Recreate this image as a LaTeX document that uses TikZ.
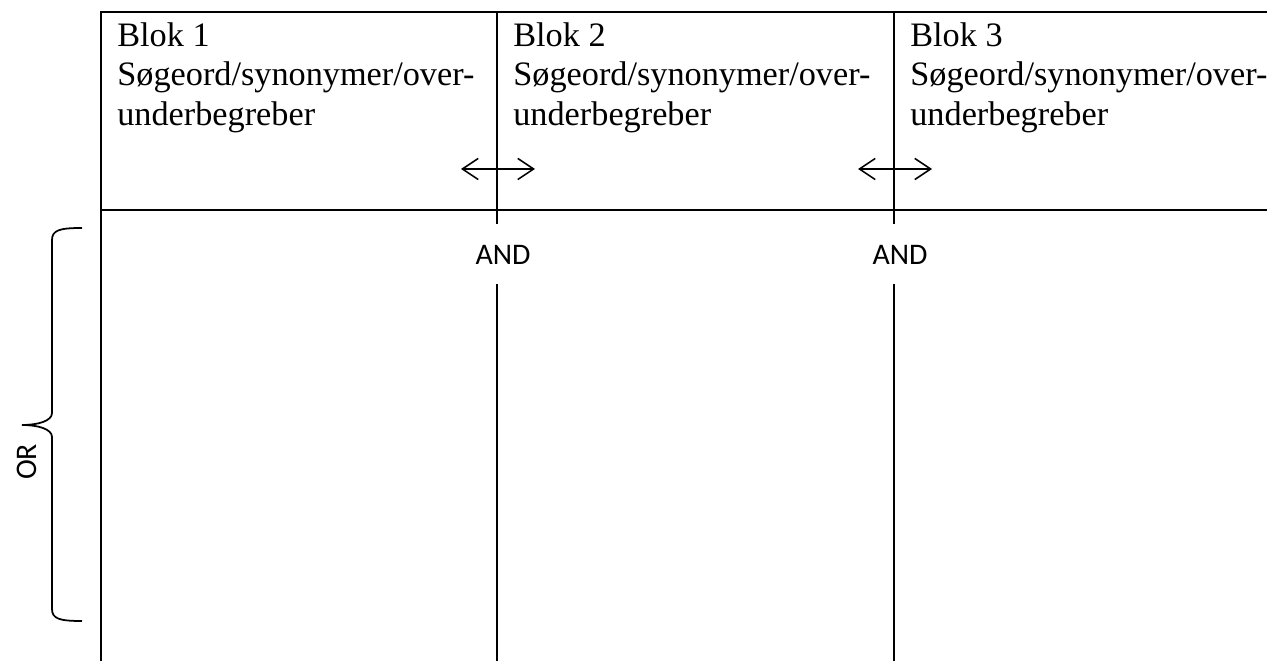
\documentclass[tikz,border=0pt]{standalone}
\usepackage{fontspec}
\setmainfont{Liberation Serif}
\newfontfamily\calfont{Carlito}
\usepackage{tikz}
\usetikzlibrary{arrows.meta}

\begin{document}
\begin{tikzpicture}[x=0.02cm,y=-0.02cm]
\tikzset{
  rule/.style={line width=1.4pt},
  blokhead/.style={anchor=north west,inner sep=0pt,align=left,
    font=\fontsize{19.5}{22.7}\selectfont},
  oplabel/.style={inner sep=0pt,font=\calfont\fontsize{17}{19}\selectfont},
  swap/.style={line width=0.9pt,{Straight Barb[length=9pt,width=12pt]}-{Straight Barb[length=9pt,width=12pt]}}
}
\useasboundingbox (0,0) rectangle (1267,661);

% table frame
\draw[rule] (1267,12) -- (101,12) -- (101,661);
\draw[rule] (101,210) -- (1267,210);

\foreach \x/\n in {117/1,513/2,910/3} {
\node[blokhead] (blok\n) at (\x,22) {Blok \n\\Søgeord/synonymer/over-\\underbegreber};
}

\foreach \x/\n in {497/1,894/2} {
\draw[rule] (\x,12) -- (\x,224);
\draw[rule] (\x,284) -- (\x,661);
\node[oplabel] (and\n) at (\x+6,255) {AND};
\coordinate (sw\n a) at (\x-36,169);
\coordinate (sw\n b) at (\x+38,169);
\draw[swap] (sw\n a) -- (sw\n b);
}

% brace
\draw[line width=1pt] (82,228) .. controls (60,228) and (52,230) .. (52,240) -- (52,413)
  .. controls (52,421) and (38,425) .. (22,425)
  .. controls (38,425) and (52,429) .. (52,437) -- (52,609)
  .. controls (52,619) and (60,621) .. (82,621);
\node[oplabel,rotate=90] (or) at (27,462) {OR};
\end{tikzpicture}
\end{document}
